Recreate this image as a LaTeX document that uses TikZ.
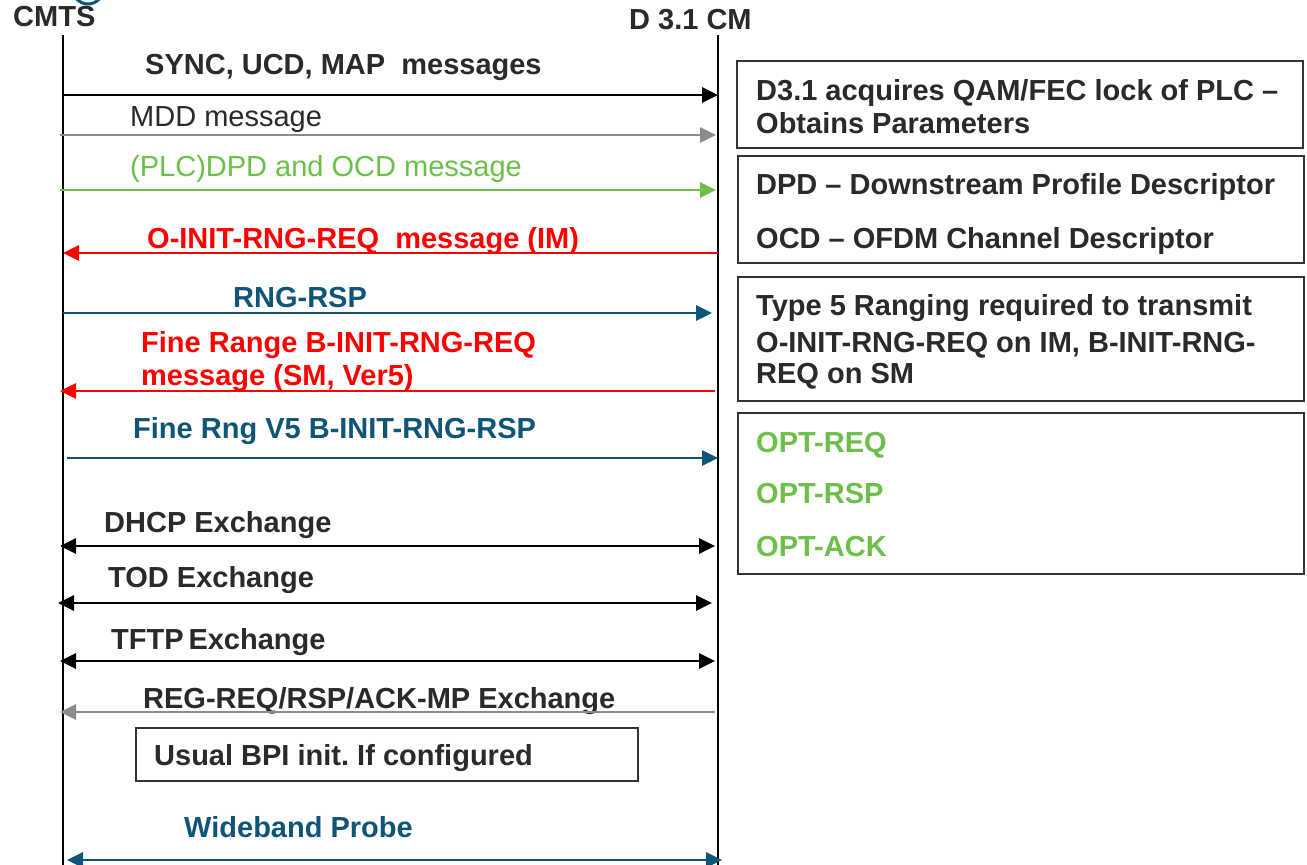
\documentclass[tikz,border=0pt]{standalone}
\usepackage{fontspec}
\setmainfont{Liberation Sans}
\usetikzlibrary{arrows.meta}
\frenchspacing
\definecolor{txt}{HTML}{2A2A2A}
\definecolor{cred}{HTML}{FF0000}
\definecolor{cblue}{HTML}{0F5577}
\definecolor{cgreen}{HTML}{6CC04A}
\definecolor{cgrey}{HTML}{8C8C8C}
\definecolor{cbox}{HTML}{333333}
\newcommand\bfnt{\fontsize{29}{34}\selectfont\bfseries}
\newcommand\rgfnt{\fontsize{29}{34}\selectfont}
\tikzset{
  lbl/.style={anchor=base west, inner sep=0pt, font=\bfnt, text=txt},
  rlbl/.style={anchor=base west, inner sep=0pt, font=\rgfnt, text=txt},
  life/.style={line width=1.8pt, black},
  msg/.style={line width=2.8pt, -{Triangle[length=16pt,width=15pt]}},
  dmsg/.style={line width=2.8pt, {Triangle[length=16pt,width=15pt]}-{Triangle[length=16pt,width=15pt]}},
  infobox/.style={draw=cbox, line width=2pt, fill=white},
}
\begin{document}
\begin{tikzpicture}[x=1pt,y=-1pt]
\useasboundingbox (0,0) rectangle (1307,865);
\fill[white] (0,0) rectangle (1307,865);
% partial logo circle
\draw[cblue, line width=3pt] (88,-11) circle (15);
% headers
\node[lbl] (cmts) at (13,26) {CMTS};
\node[lbl] (cm) at (629,29) {D 3.1 CM};
% lifelines
\coordinate (l1t) at (63,35); \coordinate (l1b) at (63,866);
\coordinate (l2t) at (718,35); \coordinate (l2b) at (718,866);
\draw[life] (l1t) -- (l1b);
\draw[life] (l2t) -- (l2b);
% 1 SYNC
\node[lbl] (t1) at (145,74) {SYNC, UCD, MAP\ \ messages};
\coordinate (a1s) at (63,95); \coordinate (a1e) at (718,95);
\draw[msg, black] (a1s) -- (a1e);
% 2 MDD
\node[rlbl] (t2) at (130,126) {MDD message};
\coordinate (a2s) at (60,135); \coordinate (a2e) at (716,135);
\draw[msg, cgrey] (a2s) -- (a2e);
% 3 PLC
\node[rlbl, text=cgreen] (t3) at (130,176) {(PLC)DPD and OCD message};
\coordinate (a3s) at (60,190); \coordinate (a3e) at (716,190);
\draw[msg, cgreen] (a3s) -- (a3e);
% 4 O-INIT
\node[lbl, text=cred] (t4) at (147,248) {O-INIT-RNG-REQ\ \ message (IM)};
\coordinate (a4s) at (718,253); \coordinate (a4e) at (63,253);
\draw[msg, cred] (a4s) -- (a4e);
% 5 RNG-RSP
\node[lbl, text=cblue] (t5) at (233,307) {RNG-RSP};
\coordinate (a5s) at (63,313); \coordinate (a5e) at (712,313);
\draw[msg, cblue] (a5s) -- (a5e);
% 6 Fine Range
\node[lbl, text=cred] (t6a) at (141,352) {Fine Range B-INIT-RNG-REQ};
\node[lbl, text=cred] (t6b) at (141,385) {message (SM, Ver5)};
\coordinate (a6s) at (715,391); \coordinate (a6e) at (60,391);
\draw[msg, cred] (a6s) -- (a6e);
% 7 Fine Rng RSP
\node[lbl, text=cblue] (t7) at (133,438) {Fine Rng V5 B-INIT-RNG-RSP};
\coordinate (a7s) at (67,458); \coordinate (a7e) at (718,458);
\draw[msg, cblue] (a7s) -- (a7e);
% 8 DHCP
\node[lbl] (t8) at (104,532) {DHCP Exchange};
\coordinate (a8s) at (60,546); \coordinate (a8e) at (715,546);
\draw[dmsg, black] (a8s) -- (a8e);
% 9 TOD
\node[lbl] (t9) at (108,587) {TOD Exchange};
\coordinate (a9s) at (58,603); \coordinate (a9e) at (712,603);
\draw[dmsg, black] (a9s) -- (a9e);
% 10 TFTP
\node[lbl] (t10) at (111,649) {TFTP\,Exchange};
\coordinate (a10s) at (60,661); \coordinate (a10e) at (715,661);
\draw[dmsg, black] (a10s) -- (a10e);
% 11 REG
\node[lbl] (t11) at (143,708) {REG-REQ/RSP/ACK-MP Exchange};
\coordinate (a11s) at (715,712); \coordinate (a11e) at (60,712);
\draw[msg, cgrey] (a11s) -- (a11e);
% 12 BPI box
\node[infobox, minimum width=502pt, minimum height=53pt, anchor=north west, inner sep=0pt] (bpi) at (135,727) {};
\node[lbl] (t12) at (154,765) {Usual BPI init. If configured};
% 13 Wideband
\node[lbl, text=cblue] (t13) at (184,837) {Wideband Probe};
\coordinate (a13s) at (67,860); \coordinate (a13e) at (722,860);
\draw[dmsg, cblue] (a13s) -- (a13e);
% right boxes
\node[infobox, minimum width=566pt, minimum height=87pt, anchor=north west, inner sep=0pt] (b1) at (736,60) {};
\node[lbl] (b1a) at (756,100) {D3.1 acquires QAM/FEC lock of PLC --};
\node[lbl] (b1b) at (756,133) {Obtains Parameters};
\node[infobox, minimum width=566pt, minimum height=107pt, anchor=north west, inner sep=0pt] (b2) at (737,155) {};
\node[lbl] (b2a) at (756,194) {DPD -- Downstream Profile Descriptor};
\node[lbl] (b2b) at (756,248) {OCD -- OFDM Channel Descriptor};
\node[infobox, minimum width=566pt, minimum height=124pt, anchor=north west, inner sep=0pt] (b3) at (737,276) {};
\node[lbl] (b3a) at (756,315) {Type 5 Ranging required to transmit};
\node[lbl] (b3b) at (756,352) {O-INIT-RNG-REQ on IM, B-INIT-RNG-};
\node[lbl] (b3c) at (756,383) {REQ on SM};
\node[infobox, minimum width=566pt, minimum height=161pt, anchor=north west, inner sep=0pt] (b4) at (737,412) {};
\node[lbl, text=cgreen] (b4a) at (756,452) {OPT-REQ};
\node[lbl, text=cgreen] (b4b) at (756,503) {OPT-RSP};
\node[lbl, text=cgreen] (b4c) at (756,556) {OPT-ACK};
\end{tikzpicture}
\end{document}
